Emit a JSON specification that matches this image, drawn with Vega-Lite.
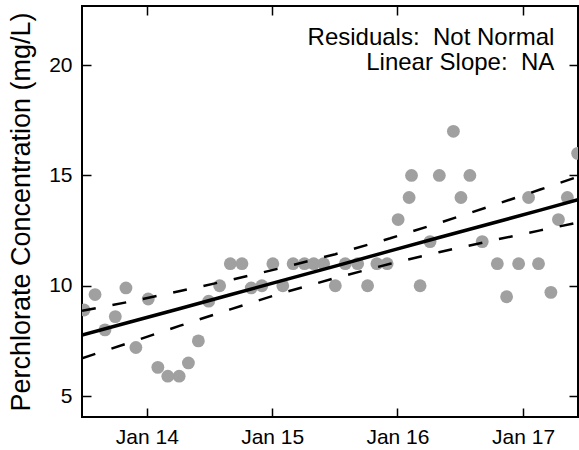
{
  "$schema": "https://vega.github.io/schema/vega-lite/v6.json",
  "width": 496,
  "height": 411,
  "autosize": {"type": "none"},
  "padding": {"left": 82, "top": 6, "right": 1, "bottom": 33},
  "background": "white",
  "config": {
    "view": {"stroke": "black", "strokeWidth": 2},
    "font": "Liberation Sans",
    "axis": {
      "domain": false,
      "grid": false,
      "tickColor": "black",
      "tickWidth": 1.5,
      "labelColor": "black",
      "labelFontSize": 21,
      "labelFont": "Liberation Sans",
      "titleFont": "Liberation Sans",
      "titleColor": "black",
      "titleFontWeight": "normal"
    }
  },
  "datasets": {
    "obs": [
      {"date": "2013-07-02T00:00", "value": 8.9},
      {"date": "2013-08-03T00:00", "value": 9.6},
      {"date": "2013-09-01T00:00", "value": 8.0},
      {"date": "2013-10-01T00:00", "value": 8.6},
      {"date": "2013-11-01T00:00", "value": 9.9},
      {"date": "2013-11-30T00:00", "value": 7.2},
      {"date": "2014-01-05T00:00", "value": 9.4},
      {"date": "2014-02-02T00:00", "value": 6.3},
      {"date": "2014-03-03T00:00", "value": 5.9},
      {"date": "2014-04-05T00:00", "value": 5.9},
      {"date": "2014-05-02T00:00", "value": 6.5},
      {"date": "2014-05-31T00:00", "value": 7.5},
      {"date": "2014-06-30T00:00", "value": 9.3},
      {"date": "2014-08-01T00:00", "value": 10},
      {"date": "2014-09-01T00:00", "value": 11},
      {"date": "2014-10-05T00:00", "value": 11},
      {"date": "2014-11-01T00:00", "value": 9.9},
      {"date": "2014-12-02T00:00", "value": 10},
      {"date": "2015-01-03T00:00", "value": 11},
      {"date": "2015-02-01T00:00", "value": 10},
      {"date": "2015-03-03T00:00", "value": 11},
      {"date": "2015-04-05T00:00", "value": 11},
      {"date": "2015-05-02T00:00", "value": 11},
      {"date": "2015-05-31T00:00", "value": 11},
      {"date": "2015-07-04T00:00", "value": 10},
      {"date": "2015-08-02T00:00", "value": 11},
      {"date": "2015-09-07T00:00", "value": 11},
      {"date": "2015-10-06T00:00", "value": 10},
      {"date": "2015-11-02T00:00", "value": 11},
      {"date": "2015-12-02T00:00", "value": 11},
      {"date": "2016-01-03T00:00", "value": 13},
      {"date": "2016-02-04T00:00", "value": 14},
      {"date": "2016-02-11T00:00", "value": 15},
      {"date": "2016-03-07T00:00", "value": 10},
      {"date": "2016-04-05T00:00", "value": 12},
      {"date": "2016-05-02T00:00", "value": 15},
      {"date": "2016-06-12T00:00", "value": 17},
      {"date": "2016-07-04T00:00", "value": 14},
      {"date": "2016-07-30T00:00", "value": 15},
      {"date": "2016-09-04T00:00", "value": 12},
      {"date": "2016-10-18T00:00", "value": 11},
      {"date": "2016-11-14T00:00", "value": 9.5},
      {"date": "2016-12-19T00:00", "value": 11},
      {"date": "2017-01-17T00:00", "value": 14},
      {"date": "2017-02-15T00:00", "value": 11},
      {"date": "2017-03-23T00:00", "value": 9.7},
      {"date": "2017-04-14T00:00", "value": 13},
      {"date": "2017-05-10T00:00", "value": 14},
      {"date": "2017-06-09T00:00", "value": 16}
    ],
    "fit": [
      {"date": "2013-06-26T00:00", "fit": 7.76, "upper": 8.86, "lower": 6.71},
      {"date": "2013-11-13T00:00", "fit": 8.355, "upper": 9.28, "lower": 7.43},
      {"date": "2014-04-08T00:00", "fit": 8.97, "upper": 9.76, "lower": 8.19},
      {"date": "2014-09-01T00:00", "fit": 9.59, "upper": 10.26, "lower": 8.93},
      {"date": "2015-01-24T00:00", "fit": 10.21, "upper": 10.79, "lower": 9.64},
      {"date": "2015-07-04T00:00", "fit": 10.89, "upper": 11.43, "lower": 10.35},
      {"date": "2015-12-11T00:00", "fit": 11.58, "upper": 12.15, "lower": 11.0},
      {"date": "2016-05-04T00:00", "fit": 12.2, "upper": 12.86, "lower": 11.53},
      {"date": "2016-09-27T00:00", "fit": 12.81, "upper": 13.6, "lower": 12.03},
      {"date": "2017-02-20T00:00", "fit": 13.43, "upper": 14.36, "lower": 12.51},
      {"date": "2017-06-10T00:00", "fit": 13.9, "upper": 14.94, "lower": 12.86}
    ],
    "note": [
      {"date": "2017-04-02T00:00", "value": 20.91, "label": "Residuals:\u00a0 Not Normal"},
      {"date": "2017-04-02T00:00", "value": 19.78, "label": "Linear Slope:\u00a0 NA"}
    ]
  },
  "layer": [
    {
      "data": {"name": "obs"},
      "mark": {"type": "circle", "size": 165, "color": "#a0a0a0", "opacity": 1, "clip": true},
      "encoding": {
        "x": {
          "field": "date", "type": "temporal",
          "scale": {"domain": [{"year": 2013, "month": 6, "date": 26}, {"year": 2017, "month": 6, "date": 10}], "nice": false},
          "axis": {
            "orient": "bottom",
            "values": [{"year": 2014, "month": 1, "date": 1}, {"year": 2015, "month": 1, "date": 1}, {"year": 2016, "month": 1, "date": 1}, {"year": 2017, "month": 1, "date": 1}],
            "format": "%b %y",
            "tickSize": -9,
            "labelPadding": 18,
            "labelFlush": false,
            "title": null
          }
        },
        "y": {
          "field": "value", "type": "quantitative",
          "scale": {"domain": [4.05, 22.68], "nice": false, "zero": false},
          "axis": {
            "orient": "left",
            "values": [5, 10, 15, 20],
            "tickSize": -9,
            "labelPadding": 19,
            "title": "Perchlorate Concentration (mg/L)",
            "titleFontSize": 27,
            "titlePadding": 13
          }
        }
      }
    },
    {
      "data": {"name": "fit"},
      "mark": {"type": "line", "color": "black", "strokeWidth": 3.5, "clip": true},
      "encoding": {
        "x": {
          "field": "date", "type": "temporal",
          "scale": {"domain": [{"year": 2013, "month": 6, "date": 26}, {"year": 2017, "month": 6, "date": 10}], "nice": false},
          "axis": {
            "orient": "top",
            "values": [{"year": 2014, "month": 1, "date": 1}, {"year": 2015, "month": 1, "date": 1}, {"year": 2016, "month": 1, "date": 1}, {"year": 2017, "month": 1, "date": 1}],
            "tickSize": -9,
            "labels": false,
            "title": null
          }
        },
        "y": {
          "field": "fit", "type": "quantitative",
          "scale": {"domain": [4.05, 22.68], "nice": false, "zero": false},
          "axis": {
            "orient": "right",
            "values": [5, 10, 15, 20],
            "tickSize": -9,
            "labels": false,
            "title": null
          }
        }
      }
    },
    {
      "data": {"name": "fit"},
      "mark": {"type": "line", "color": "black", "strokeWidth": 2.5, "strokeDash": [14, 17], "clip": true},
      "encoding": {
        "x": {"field": "date", "type": "temporal", "axis": null},
        "y": {"field": "upper", "type": "quantitative", "axis": null}
      }
    },
    {
      "data": {"name": "fit"},
      "mark": {"type": "line", "color": "black", "strokeWidth": 2.5, "strokeDash": [14, 17], "clip": true},
      "encoding": {
        "x": {"field": "date", "type": "temporal", "axis": null},
        "y": {"field": "lower", "type": "quantitative", "axis": null}
      }
    },
    {
      "data": {"name": "note"},
      "mark": {"type": "text", "align": "right", "baseline": "alphabetic", "fontSize": 24, "font": "Liberation Sans", "color": "black"},
      "encoding": {
        "x": {"field": "date", "type": "temporal", "axis": null},
        "y": {"field": "value", "type": "quantitative", "axis": null},
        "text": {"field": "label"}
      }
    }
  ],
  "resolve": {"axis": {"x": "independent", "y": "independent"}}
}
